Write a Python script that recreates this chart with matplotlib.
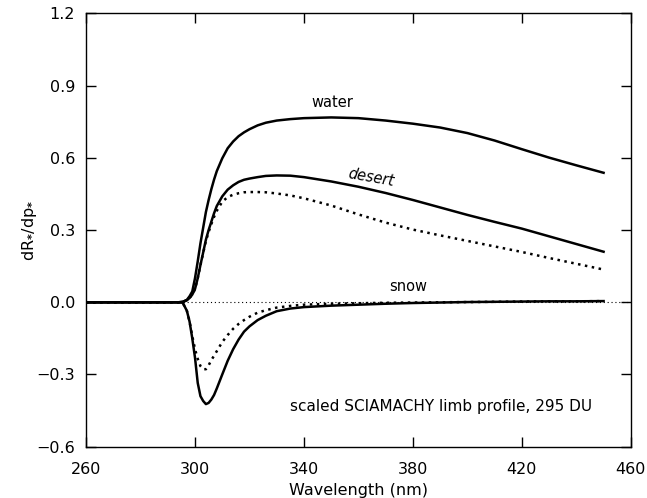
import numpy as np
import matplotlib.pyplot as plt

# wavelength grid (nm)
wl = [260, 280, 294, 295.5, 297, 298, 299, 300, 301, 302, 303, 304, 305, 306, 307, 308,
      310, 312, 314, 316, 318, 320, 323, 326, 330, 335, 340,
      350, 360, 370, 380, 390, 400, 410, 420, 430, 440, 450]

water = [0, 0, 0, 0.002, 0.01, 0.025, 0.045, 0.10, 0.17, 0.245, 0.31, 0.375, 0.425, 0.47, 0.51, 0.545,
         0.598, 0.64, 0.668, 0.69, 0.706, 0.719, 0.735, 0.746, 0.755, 0.761, 0.765,
         0.768, 0.765, 0.755, 0.742, 0.726, 0.703, 0.672, 0.636, 0.601, 0.569, 0.538]
desert = [0, 0, 0, 0.002, 0.008, 0.018, 0.032, 0.055, 0.1, 0.155, 0.207, 0.26, 0.3, 0.335, 0.37, 0.4,
          0.44, 0.468, 0.486, 0.5, 0.509, 0.514, 0.52, 0.525, 0.527, 0.526, 0.52,
          0.502, 0.48, 0.454, 0.425, 0.394, 0.363, 0.334, 0.306, 0.274, 0.242, 0.21]
desert_dot = [0, 0, 0, 0.002, 0.008, 0.018, 0.032, 0.055, 0.1, 0.155, 0.205, 0.255, 0.292, 0.325, 0.355, 0.38,
              0.418, 0.437, 0.447, 0.453, 0.457, 0.458, 0.458, 0.457, 0.452, 0.444, 0.432,
              0.402, 0.365, 0.331, 0.302, 0.278, 0.255, 0.232, 0.209, 0.184, 0.16, 0.136]
snow = [0, 0, 0, -0.002, -0.035, -0.08, -0.15, -0.23, -0.335, -0.39, -0.41, -0.423, -0.418, -0.404, -0.385, -0.358,
        -0.3, -0.243, -0.195, -0.155, -0.122, -0.1, -0.074, -0.056, -0.037, -0.026, -0.02,
        -0.014, -0.01, -0.006, -0.003, -0.001, 0.001, 0.002, 0.003, 0.004, 0.004, 0.005]
snow_dot = [0, 0, 0, -0.002, -0.035, -0.08, -0.14, -0.195, -0.235, -0.265, -0.278, -0.278, -0.262, -0.24, -0.222, -0.203,
            -0.165, -0.136, -0.11, -0.09, -0.074, -0.06, -0.043, -0.033, -0.022, -0.015, -0.01,
            -0.006, -0.004, -0.002, -0.001, 0, 0.001, 0.002, 0.003, 0.004, 0.004, 0.005]

xticks = [260, 300, 340, 380, 420, 460]
yticks = [-0.6, -0.3, 0.0, 0.3, 0.6, 0.9, 1.2]

plt.rcParams['font.family'] = 'DejaVu Sans'
fig = plt.figure(figsize=(6.47, 4.98), dpi=100)
ax = fig.add_axes([0.133, 0.103, 0.842, 0.870])

ax.plot([260, 460], [0, 0], color='black', lw=0.8, linestyle=(0, (1, 2.5)))
ax.plot(wl, water, 'k-', lw=1.8)
ax.plot(wl, desert, 'k-', lw=1.8)
ax.plot(wl, desert_dot, color='black', lw=1.8, linestyle=(0, (1, 1.8)))
ax.plot(wl, snow, 'k-', lw=1.8)
ax.plot(wl, snow_dot, color='black', lw=1.8, linestyle=(0, (1, 1.8)))

fs = 11.5
ax.text(350.5, 0.83, 'water', ha='center', va='center', fontsize=fs - 1)
ax.text(364.8, 0.52, 'desert', ha='center', va='center', fontsize=fs - 1,
        rotation=-10, style='italic')
ax.text(378.3, 0.065, 'snow', ha='center', va='center', fontsize=fs - 1)
ax.text(334.7, -0.432, 'scaled SCIAMACHY limb profile, 295 DU', ha='left',
        va='center', fontsize=fs - 0.5)

ax.set_xlim(260, 460)
ax.set_ylim(-0.6, 1.2)
ax.set_xticks(xticks)
ax.set_yticks(yticks)
ax.set_xticklabels([str(t) for t in xticks])
ax.set_yticklabels(['\u22120.6', '\u22120.3', '0.0', '0.3', '0.6', '0.9', '1.2'])
ax.tick_params(direction='in', length=7, width=1, top=True, right=True,
               labelsize=fs, pad=8)
ax.tick_params(axis='x', pad=11)
for s in ax.spines.values():
    s.set_linewidth(1)
ax.set_xlabel('Wavelength (nm)', fontsize=fs, labelpad=4)
ax.set_ylabel(r'dR$_{\mathbf{*}}$/dp$_{\mathbf{*}}$', fontsize=fs)
ax.yaxis.set_label_coords(-0.086, 0.5)

fig.savefig('out.png', dpi=100)
